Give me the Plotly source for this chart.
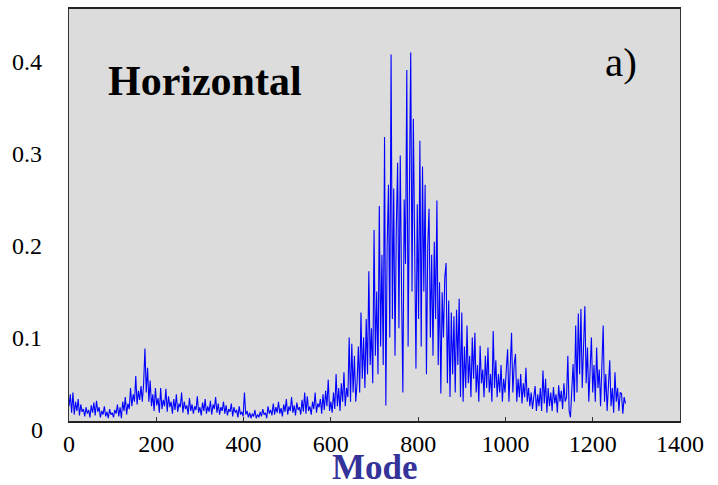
import plotly.graph_objects as go

# Amplitude per mode (one value every 3 modes starting at mode 0)
seg_0000 = [0.025,0.038,0.018,0.040,0.016,0.030,0.020,0.033,0.015,0.027,0.019,0.022,0.014,0.024,0.017,0.021,0.013,0.026,0.018,0.029]
seg_0060 = [0.015,0.031,0.019,0.024,0.013,0.020,0.016,0.025,0.014,0.019,0.012,0.022,0.016,0.018,0.013,0.021,0.017,0.027,0.014,0.024]
seg_0120 = [0.012,0.030,0.020,0.035,0.016,0.028,0.022,0.045,0.025,0.038,0.030,0.058,0.027,0.042,0.032,0.047,0.030,0.050,0.088,0.040]
seg_0180 = [0.067,0.030,0.053,0.025,0.038,0.020,0.045,0.026,0.034,0.018,0.045,0.022,0.032,0.025,0.044,0.019,0.036,0.024,0.030,0.017]
seg_0240 = [0.033,0.021,0.038,0.019,0.028,0.024,0.040,0.018,0.030,0.022,0.026,0.016,0.034,0.020,0.027,0.017,0.025,0.021,0.036,0.018]
seg_0300 = [0.024,0.015,0.029,0.020,0.033,0.017,0.025,0.019,0.031,0.016,0.027,0.022,0.035,0.018,0.028,0.016,0.024,0.020,0.030,0.017]
seg_0360 = [0.026,0.015,0.022,0.019,0.028,0.014,0.024,0.018,0.021,0.013,0.025,0.016,0.019,0.014,0.040,0.016,0.020,0.013,0.018,0.012]
seg_0420 = [0.017,0.014,0.021,0.012,0.016,0.013,0.019,0.014,0.022,0.016,0.018,0.012,0.025,0.017,0.021,0.015,0.028,0.016,0.024,0.018]
seg_0480 = [0.030,0.017,0.023,0.014,0.027,0.019,0.033,0.016,0.025,0.020,0.035,0.018,0.026,0.015,0.029,0.021,0.024,0.016,0.032,0.019]
seg_0540 = [0.040,0.017,0.036,0.020,0.025,0.016,0.030,0.022,0.040,0.018,0.028,0.024,0.033,0.017,0.038,0.021,0.042,0.025,0.054,0.020]
seg_0600 = [0.030,0.018,0.040,0.022,0.060,0.025,0.045,0.020,0.050,0.030,0.062,0.025,0.045,0.035,0.100,0.030,0.093,0.040,0.080,0.030]
seg_0660 = [0.050,0.090,0.040,0.127,0.055,0.100,0.045,0.120,0.060,0.172,0.070,0.110,0.050,0.217,0.080,0.150,0.060,0.243,0.090,0.190]
seg_0720 = [0.070,0.318,0.026,0.200,0.266,0.100,0.408,0.120,0.262,0.080,0.220,0.290,0.110,0.298,0.150,0.040,0.250,0.180,0.391,0.090]
seg_0780 = [0.260,0.410,0.150,0.338,0.200,0.066,0.245,0.120,0.314,0.090,0.286,0.150,0.266,0.060,0.200,0.240,0.100,0.190,0.080,0.204]
seg_0840 = [0.120,0.249,0.070,0.160,0.039,0.149,0.100,0.165,0.181,0.050,0.140,0.035,0.127,0.060,0.123,0.040,0.130,0.070,0.142,0.035]
seg_0900 = [0.127,0.030,0.090,0.045,0.113,0.050,0.080,0.035,0.100,0.055,0.105,0.040,0.070,0.030,0.091,0.050,0.065,0.035,0.080,0.045]
seg_0960 = [0.089,0.040,0.060,0.030,0.107,0.045,0.075,0.035,0.060,0.040,0.070,0.030,0.055,0.040,0.065,0.087,0.030,0.060,0.105,0.040]
seg_1020 = [0.070,0.082,0.030,0.055,0.035,0.060,0.028,0.050,0.035,0.067,0.030,0.045,0.025,0.040,0.022,0.035,0.047,0.020,0.038,0.025]
seg_1080 = [0.045,0.020,0.064,0.028,0.055,0.018,0.045,0.025,0.040,0.020,0.046,0.028,0.038,0.018,0.048,0.030,0.042,0.022,0.050,0.030]
seg_1140 = [0.035,0.080,0.020,0.013,0.045,0.071,0.030,0.113,0.040,0.126,0.060,0.131,0.045,0.090,0.134,0.050,0.089,0.030,0.075,0.100]
seg_1200 = [0.040,0.070,0.030,0.089,0.045,0.065,0.025,0.080,0.113,0.030,0.060,0.020,0.050,0.075,0.025,0.045,0.018,0.062,0.030,0.045]
seg_1260 = [0.020,0.040,0.039,0.017,0.035,0.028]

mode_step = 3
x_ticks = [0, 200, 400, 600, 800, 1000, 1200, 1400]
y_ticks = [0.1, 0.2, 0.3, 0.4]
y_ticktext = ["0.1", "0.2", "0.3", "0.4"]

values = (seg_0000 + seg_0060 + seg_0120 + seg_0180 + seg_0240 + seg_0300 + seg_0360 +
          seg_0420 + seg_0480 + seg_0540 + seg_0600 + seg_0660 + seg_0720 + seg_0780 +
          seg_0840 + seg_0900 + seg_0960 + seg_1020 + seg_1080 + seg_1140 + seg_1200 + seg_1260)
modes = [i * mode_step for i in range(len(values))]

SERIF = "Liberation Serif, Times New Roman, serif"

fig = go.Figure()
fig.add_trace(go.Scatter(x=modes, y=values, mode="lines",
                         line=dict(color="#0000ff", width=1.1), showlegend=False,
                         hoverinfo="x+y"))

fig.update_layout(
    width=718, height=485,
    margin=dict(l=69, r=38, t=7, b=64),
    paper_bgcolor="white",
    plot_bgcolor="#dcdcdc",
    font=dict(family=SERIF, size=24, color="black"),
    xaxis=dict(range=[0, 1400], tickvals=x_ticks, ticks="inside", ticklen=4,
               tickcolor="#333333", showgrid=False, zeroline=False,
               showline=True, linecolor="#222222", linewidth=1.5, mirror=True,
               tickfont=dict(family=SERIF, size=24, color="black"),
               ticklabelstandoff=0),
    yaxis=dict(range=[0.009, 0.4574], tickvals=y_ticks, ticktext=y_ticktext,
               ticks="", showgrid=False, zeroline=False,
               showline=True, linecolor="#333333", linewidth=1.2, mirror=True,
               tickfont=dict(family=SERIF, size=24, color="black"),
               ticklabelstandoff=21),
    annotations=[
        dict(text="Mode", xref="paper", yref="paper", x=0.5, y=(421 - 468) / 414,
             xanchor="center", yanchor="middle", showarrow=False,
             font=dict(family=SERIF, size=35, color="#333399", weight="bold")),
        dict(text="Horizontal", xref="paper", yref="paper", x=(205 - 69) / 611, y=(421 - 79) / 414,
             xanchor="center", yanchor="middle", showarrow=False,
             font=dict(family=SERIF, size=42, color="black", weight="bold")),
        dict(text="a)", xref="paper", yref="paper", x=(621 - 69) / 611, y=(421 - 60) / 414,
             xanchor="center", yanchor="middle", showarrow=False,
             font=dict(family=SERIF, size=41, color="black")),
        dict(text="0", xref="paper", yref="paper", x=(37 - 69) / 611, y=(421 - 430) / 414,
             xanchor="center", yanchor="middle", showarrow=False,
             font=dict(family=SERIF, size=24, color="black")),
    ],
)

fig.write_html("out.html", config={"displayModeBar": False},
               post_script="document.body.style.margin='0';")
